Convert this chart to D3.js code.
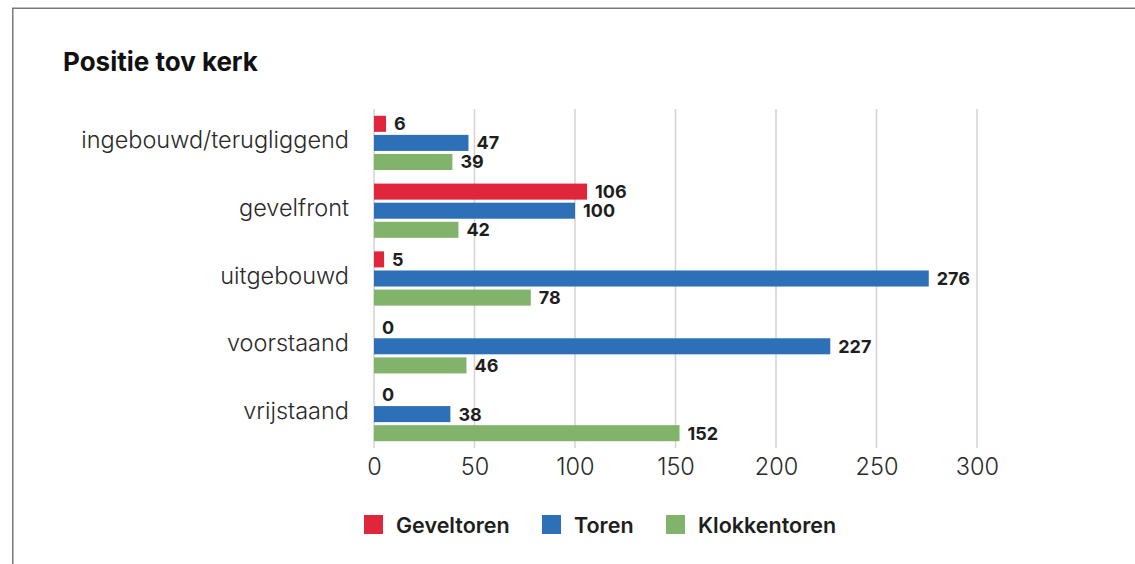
<!DOCTYPE html>
<html>
<head>
<meta charset="utf-8">
<script src="https://cdn.jsdelivr.net/npm/d3@7"></script>
<style>
  html, body { margin: 0; padding: 0; background: #fff; }
  svg { display: block; }
</style>
</head>
<body>
<svg id="chart" width="1135" height="564"></svg>
<script>
const title = "Positie tov kerk";
const categories = ["ingebouwd/terugliggend", "gevelfront", "uitgebouwd", "voorstaand", "vrijstaand"];
const seriesNames = ["Geveltoren", "Toren", "Klokkentoren"];
const geveltoren = [6, 106, 5, 0, 0];
const toren = [47, 100, 276, 227, 38];
const klokkentoren = [39, 42, 78, 46, 152];
const colors = ["#E0263A", "#2E70B7", "#82B36B"];
const xTicks = [0, 50, 100, 150, 200, 250, 300];

const seriesValues = [geveltoren, toren, klokkentoren];
const data = categories.map((c, i) => ({
  cat: c,
  vals: seriesNames.map((s, j) => ({ s, v: seriesValues[j][i], color: colors[j] }))
}));

const svg = d3.select("#chart");
const FONT = "Inter, 'DejaVu Sans', sans-serif";

// frame
svg.append("path")
  .attr("d", "M12.75,600 L12.75,8.25 L1140,8.25")
  .attr("fill", "none").attr("stroke", "#7a7a7a").attr("stroke-width", 1.5);

// title
svg.append("text").attr("x", 63).attr("y", 71)
  .attr("font-family", FONT).attr("font-weight", 700).attr("font-size", 26)
  .attr("fill", "#111").text(title);

const x = d3.scaleLinear().domain([0, 300]).range([374, 977]);
const y = d3.scaleBand().domain(categories).range([109, 448]).paddingInner(0.2).paddingOuter(0.1);
const yInner = d3.scaleBand().domain(seriesNames).range([0, y.bandwidth()]).paddingInner(0.16);

// gridlines
svg.append("g").selectAll("line").data(xTicks).join("line")
  .attr("x1", d => x(d)).attr("x2", d => x(d))
  .attr("y1", 109).attr("y2", 448)
  .attr("stroke", "#d3d3d3").attr("stroke-width", 1.5);

// x axis labels
const xAxis = d3.axisBottom(x).tickValues(xTicks).tickSize(0).tickPadding(0);
const gx = svg.append("g").attr("transform", "translate(0,458)").call(xAxis);
gx.select(".domain").remove();
gx.selectAll("text")
  .attr("font-family", FONT).attr("font-size", 23.5).attr("font-weight", 300)
  .attr("fill", "#2a2a2a").attr("dy", "0.71em");

// y axis labels
const yAxis = d3.axisLeft(y).tickSize(0).tickPadding(0);
const gy = svg.append("g").attr("transform", "translate(349,-2.5)").call(yAxis);
gy.select(".domain").remove();
gy.selectAll("text")
  .attr("font-family", FONT).attr("font-size", 23.5).attr("font-weight", 300)
  .attr("fill", "#2a2a2a");

// bars
const groups = svg.append("g").selectAll("g").data(data).join("g")
  .attr("transform", d => `translate(0,${y(d.cat)})`);

groups.selectAll("rect").data(d => d.vals).join("rect")
  .attr("x", x(0))
  .attr("y", d => yInner(d.s))
  .attr("width", d => x(d.v) - x(0))
  .attr("height", yInner.bandwidth())
  .attr("fill", d => d.color);

groups.selectAll("text").data(d => d.vals).join("text")
  .attr("x", d => x(d.v) + 8)
  .attr("y", d => yInner(d.s) + yInner.bandwidth() / 2)
  .attr("dy", "0.36em")
  .attr("font-family", FONT).attr("font-weight", 700).attr("font-size", 18)
  .attr("fill", "#1e1e1e")
  .text(d => d.v);

// legend
const legendX = [364, 542, 666];
const lg = svg.append("g").selectAll("g").data(seriesNames).join("g")
  .attr("transform", (d, i) => `translate(${legendX[i]},515)`);
lg.append("rect").attr("width", 19).attr("height", 19).attr("fill", (d, i) => colors[i]);
lg.append("text").attr("x", 32).attr("y", 10).attr("dy", "0.36em")
  .attr("font-family", FONT).attr("font-weight", 600).attr("font-size", 21.5)
  .attr("fill", "#1e1e1e").text(d => d);
</script>
</body>
</html>
